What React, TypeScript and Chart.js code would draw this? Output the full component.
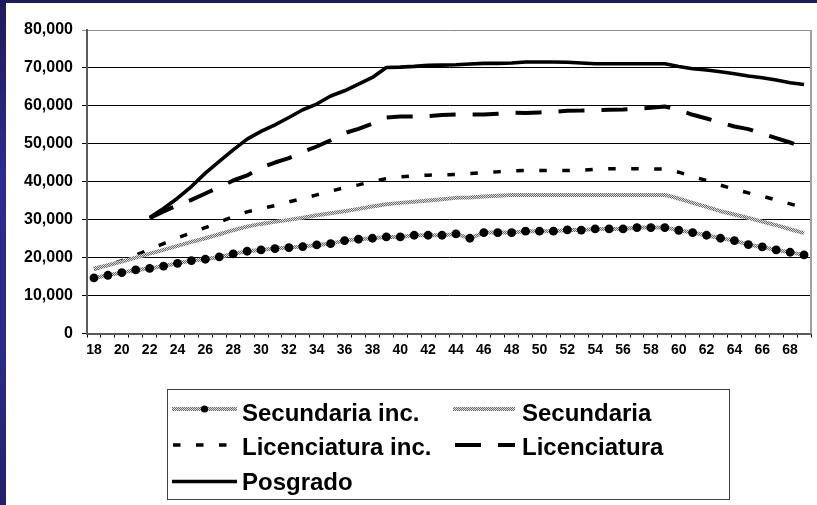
import React, { useEffect, useRef } from 'react';
import { Chart, registerables } from 'chart.js';

Chart.register(...registerables);

// ---------- data ----------
const ages = [
  18, 19, 20, 21, 22, 23, 24, 25, 26, 27, 28, 29, 30, 31, 32, 33, 34, 35, 36, 37, 38, 39, 40, 41, 42, 43,
  44, 45, 46, 47, 48, 49, 50, 51, 52, 53, 54, 55, 56, 57, 58, 59, 60, 61, 62, 63, 64, 65, 66, 67, 68, 69,
];

const secundariaInc = [
  14650, 15350, 16050, 16750, 17150, 17770, 18510, 19210, 19570, 20180, 20980, 21680, 22030, 22380, 22650, 22900, 23350, 23700,
  24490, 24850, 25110, 25460, 25460, 25900, 25900, 25900, 26250, 25110, 26600, 26600, 26600, 26960, 26960, 26960, 27300, 27250,
  27570, 27570, 27570, 27920, 27920, 27920, 27210, 26600, 25900, 25110, 24490, 23430, 22820, 22030, 21420, 20710,
];

const secundaria = [
  17100, 17990, 18950, 20000, 21060, 22030, 23090, 24140, 25110, 26170, 27230, 28180, 28890, 29420, 29950, 30550, 31180, 31710,
  32240, 32850, 33460, 34090, 34430, 34700, 35050, 35400, 35750, 35840, 36100, 36280, 36540, 36540, 36540, 36540, 36540, 36540,
  36540, 36540, 36540, 36540, 36540, 36540, 35570, 34430, 33380, 32240, 31350, 30470, 29500, 28550, 27490, 26440,
];

const licenciaturaInc = [
  17000, 18000, 19200, 20630, 22210, 23700, 25200, 26520, 27920, 29330, 30820, 32060, 32940, 33720, 34700, 35570, 36540, 37520,
  38470, 39180, 40050, 40850, 41290, 41560, 41740, 41830, 41920, 42180, 42440, 42610, 42880, 42970, 42970, 42970, 42970, 42970,
  43320, 43410, 43410, 43410, 43410, 43320, 42520, 41380, 40330, 39100, 38040, 37070, 36190, 35220, 34170, 33200,
];

const licenciatura = [
  null, null, null, null, 30390, 32140, 33820, 35220, 36890, 38570, 40330, 41650, 43670, 45070, 46220, 47890, 49290, 50950,
  52820, 53960, 55280, 56940, 57200, 57200, 57300, 57570, 57740, 57740, 57740, 57920, 58180, 58100, 58270, 58440, 58710, 58750,
  58890, 58970, 59050, 59230, 59500, 59850, 58890, 57650, 56680, 55620, 54570, 53870, 52640, 51500, 50340, 49130,
];

const posgrado = [
  null, null, null, null, 30550, 32940, 35660, 38740, 42270, 45340, 48420, 51240, 53260, 55010, 56940, 58970, 60480, 62600,
  63980, 65750, 67500, 70130, 70220, 70400, 70670, 70750, 70840, 71020, 71200, 71200, 71290, 71550, 71550, 71550, 71500, 71290,
  71110, 71110, 71110, 71110, 71110, 71110, 70400, 69790, 69440, 69000, 68470, 67860, 67410, 66800, 66090, 65650,
];

const seriesLabels = ['Secundaria inc.', 'Secundaria', 'Licenciatura inc.', 'Licenciatura', 'Posgrado'];

const yMin = 0;
const yMax = 80000;
const yStep = 10000;

const FONT = 'Arial, "Liberation Sans", Helvetica, sans-serif';

// legend layout (canvas coordinates)
const legendCells = [
  { ds: 0, x0: 166, x1: 231, tx: 236, ly: 406, by: 418, dashOffset: 0 },
  { ds: 1, x0: 447, x1: 509, tx: 516, ly: 406, by: 418, dashOffset: 0 },
  { ds: 2, x0: 166, x1: 231, tx: 236, ly: 442, by: 452, dashOffset: -1 },
  { ds: 3, x0: 449, x1: 509, tx: 516, ly: 442, by: 452, dashOffset: 0 },
  { ds: 4, x0: 166, x1: 231, tx: 236, ly: 478.5, by: 487, dashOffset: 0 },
];

const boxLegend = {
  id: 'boxLegend',
  afterDraw(chart: any) {
    const ctx = chart.ctx as CanvasRenderingContext2D;
    const area = chart.chartArea;
    ctx.save();
    // right border of plot area
    ctx.strokeStyle = '#a0a0a0';
    ctx.lineWidth = 2;
    ctx.beginPath();
    ctx.moveTo(area.right, area.top);
    ctx.lineTo(area.right, area.bottom);
    ctx.stroke();

    // legend box
    ctx.strokeStyle = '#404040';
    ctx.lineWidth = 1;
    ctx.strokeRect(161.5, 386.5, 562, 110);

    for (const c of legendCells) {
      const d = chart.data.datasets[c.ds];
      ctx.save();
      ctx.beginPath();
      ctx.setLineDash(d.borderDash || []);
      ctx.lineDashOffset = c.dashOffset;
      ctx.lineCap = 'butt';
      ctx.lineWidth = d.borderWidth;
      ctx.strokeStyle = d.borderColor;
      ctx.moveTo(c.x0, c.ly);
      ctx.lineTo(c.x1, c.ly);
      ctx.stroke();
      ctx.setLineDash([]);
      if (d.pointRadius > 0) {
        ctx.beginPath();
        ctx.fillStyle = '#000';
        ctx.arc((c.x0 + c.x1) / 2, c.ly, 3.6, 0, Math.PI * 2);
        ctx.fill();
      }
      ctx.fillStyle = '#000';
      ctx.font = `bold 24px ${FONT}`;
      ctx.textBaseline = 'alphabetic';
      ctx.textAlign = 'left';
      ctx.fillText(d.label, c.tx, c.by);
      ctx.restore();
    }
    ctx.restore();
  },
};

function makeGrayPattern(ctx: CanvasRenderingContext2D): CanvasPattern | string {
  const c = document.createElement('canvas');
  c.width = 2;
  c.height = 2;
  const p = c.getContext('2d');
  if (!p) return '#a0a0a0';
  p.fillStyle = '#dadada';
  p.fillRect(0, 0, 2, 2);
  p.fillStyle = '#6e6e6e';
  p.fillRect(0, 0, 1, 1);
  p.fillRect(1, 1, 1, 1);
  return ctx.createPattern(c, 'repeat') || '#a0a0a0';
}

export default function App() {
  const ref = useRef<HTMLCanvasElement | null>(null);

  useEffect(() => {
    document.body.style.margin = '0';
    const canvas = ref.current;
    if (!canvas) return;
    const ctx = canvas.getContext('2d');
    if (!ctx) return;
    const gray = makeGrayPattern(ctx);

    const chart = new Chart(canvas, {
      type: 'line',
      data: {
        labels: ages.map(String),
        datasets: [
          {
            label: seriesLabels[0],
            data: secundariaInc,
            borderColor: gray as any,
            borderWidth: 4,
            pointRadius: 4.4,
            pointBackgroundColor: '#000',
            pointBorderColor: '#000',
            pointBorderWidth: 0,
            tension: 0,
          },
          {
            label: seriesLabels[1],
            data: secundaria,
            borderColor: gray as any,
            borderWidth: 4,
            pointRadius: 0,
            tension: 0,
          },
          {
            label: seriesLabels[2],
            data: licenciaturaInc,
            borderColor: '#000',
            borderWidth: 3.5,
            borderDash: [7.5, 15.5],
            pointRadius: 0,
            tension: 0,
          },
          {
            label: seriesLabels[3],
            data: licenciatura,
            borderColor: '#000',
            borderWidth: 4,
            borderDash: [26, 17],
            pointRadius: 0,
            tension: 0,
          },
          {
            label: seriesLabels[4],
            data: posgrado,
            borderColor: '#000',
            borderWidth: 3.6,
            pointRadius: 0,
            tension: 0,
          },
        ],
      },
      options: {
        responsive: false,
        maintainAspectRatio: false,
        animation: false,
        devicePixelRatio: 1,
        layout: { padding: { left: 0, right: 6, top: 27, bottom: 141.5 } },
        plugins: {
          legend: { display: false },
          tooltip: { enabled: false },
          title: { display: false },
        },
        elements: { line: { borderCapStyle: 'butt', borderJoinStyle: 'round' } },
        scales: {
          x: {
            type: 'category',
            offset: true,
            afterFit: (s: any) => {
              s.height = 30;
            },
            grid: {
              offset: true,
              drawOnChartArea: false,
              drawTicks: true,
              tickLength: 4,
              color: '#000',
              lineWidth: 1,
            },
            border: { display: true, color: '#5a5a5a', width: 2 },
            ticks: {
              autoSkip: false,
              maxRotation: 0,
              minRotation: 0,
              padding: 4,
              color: '#000',
              font: { family: FONT, size: 14, weight: 'bold' },
              callback: (_v: any, i: number) => (ages[i] % 2 === 0 ? String(ages[i]) : ''),
            },
          },
          y: {
            min: yMin,
            max: yMax,
            afterFit: (s: any) => {
              s.width = 81;
            },
            grid: {
              color: (c: any) => (c.tick && c.tick.value === yMax ? '#8c8c8c' : '#000'),
              lineWidth: 1,
              drawTicks: true,
              tickLength: 5,
            },
            border: { display: true, color: '#5a5a5a', width: 2 },
            ticks: {
              stepSize: yStep,
              padding: 9,
              color: '#000',
              font: { family: FONT, size: 16, weight: 'bold' },
              callback: (v: any) => Number(v).toLocaleString('en-US'),
            },
          },
        },
      },
      plugins: [boxLegend],
    } as any);

    return () => {
      chart.destroy();
    };
  }, []);

  return (
    <div
      style={{
        position: 'fixed',
        left: 0,
        top: 0,
        width: 817,
        height: 505,
        background: 'linear-gradient(to bottom, #1c1c5c 0%, #2c2c92 35%, #2a2a88 70%, #212170 100%)',
        overflow: 'hidden',
      }}
    >
      <div style={{ position: 'absolute', left: 6, top: 3, width: 811, height: 502, background: '#fff' }}>
        <canvas ref={ref} width={811} height={502} style={{ display: 'block', width: 811, height: 502 }} />
      </div>
    </div>
  );
}
